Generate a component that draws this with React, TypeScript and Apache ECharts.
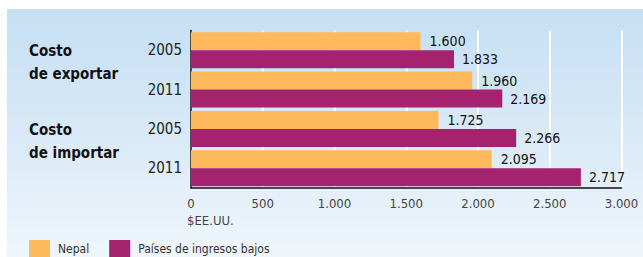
import React, { useEffect, useRef } from "react";
import * as echarts from "echarts";

const yearLabels = ["2005", "2011", "2005", "2011"];
const groupTitles = ["Costo\nde exportar", "Costo\nde importar"];
const nepalValues = [1600, 1960, 1725, 2095];
const lowIncomeValues = [1833, 2169, 2266, 2717];
const seriesNames = ["Nepal", "Países de ingresos bajos"];
const unitLabel = "$EE.UU.";

const FONT = "'Liberation Sans Narrow', 'DejaVu Sans Condensed', 'Roboto', sans-serif";
const fmt = (v: number) => {
  const s = Math.round(v).toString();
  return s.replace(/\B(?=(\d{3})+(?!\d))/g, ".");
};

export default function App() {
  const ref = useRef<HTMLDivElement>(null);
  useEffect(() => {
    if (!ref.current) return;
    const chart = echarts.init(ref.current, undefined, { renderer: "svg" });
    chart.setOption({
      animation: false,
      backgroundColor: "#ffffff",
      graphic: [
        {
          type: "rect",
          z: -10,
          silent: true,
          shape: { x: 7, y: 9, width: 636, height: 248 },
          style: {
            fill: new echarts.graphic.LinearGradient(0, 0, 0, 1, [
              { offset: 0, color: "#c5dff4" },
              { offset: 0.5, color: "#d9e9f7" },
              { offset: 1, color: "#f0f6fc" },
            ]),
          },
        },
        {
          type: "text",
          left: 29,
          top: 39,
          style: {
            text: groupTitles[0],
            font: `bold 15px ${FONT}`,
            lineHeight: 23,
            fill: "#111111",
          },
        },
        {
          type: "text",
          left: 29,
          top: 118,
          style: {
            text: groupTitles[1],
            font: `bold 15px ${FONT}`,
            lineHeight: 23,
            fill: "#111111",
          },
        },
        {
          type: "text",
          left: 187,
          top: 214,
          style: {
            text: unitLabel,
            font: `13px ${FONT}`,
            fill: "#444444",
          },
        },
      ],
      legend: {
        left: 24,
        top: 235,
        itemWidth: 21,
        itemHeight: 18,
        itemGap: 20,
        icon: "rect",
        textStyle: { fontFamily: FONT, fontSize: 12, color: "#333333", padding: [0, 0, 0, 3] },
        data: seriesNames,
      },
      grid: { left: 191, right: 21.5, top: 30.5, bottom: 69, containLabel: false },
      xAxis: {
        type: "value",
        min: 0,
        max: 3000,
        interval: 500,
        axisLine: { show: true, lineStyle: { color: "#111111", width: 1.5 } },
        axisTick: { show: false },
        splitLine: { show: true, lineStyle: { color: "#ffffff", width: 2 } },
        axisLabel: {
          margin: 9,
          fontFamily: FONT,
          fontSize: 13,
          color: "#444444",
          formatter: (v: number) => fmt(v),
        },
      },
      yAxis: {
        type: "category",
        inverse: true,
        data: yearLabels,
        axisLine: { show: true, lineStyle: { color: "#111111", width: 1.5 } },
        axisTick: { show: false },
        axisLabel: { margin: 9, fontFamily: FONT, fontSize: 15, color: "#222222" },
      },
      series: [
        {
          name: seriesNames[0],
          type: "bar",
          data: nepalValues,
          barWidth: 18,
          barGap: "0%",
          itemStyle: { color: "#fdb95b" },
          label: {
            show: true,
            position: "right",
            distance: 9,
            fontFamily: FONT,
            fontSize: 14,
            color: "#111111",
            formatter: (p: any) => fmt(p.value),
          },
        },
        {
          name: seriesNames[1],
          type: "bar",
          data: lowIncomeValues,
          barWidth: 18,
          barGap: "0%",
          itemStyle: { color: "#a5226f" },
          label: {
            show: true,
            position: "right",
            distance: 8,
            fontFamily: FONT,
            fontSize: 14,
            color: "#111111",
            formatter: (p: any) => fmt(p.value),
          },
        },
      ],
    });
    return () => chart.dispose();
  }, []);
  return (
    <div
      ref={ref}
      style={{ position: "fixed", left: 0, top: 0, width: 643, height: 257 }}
    />
  );
}
